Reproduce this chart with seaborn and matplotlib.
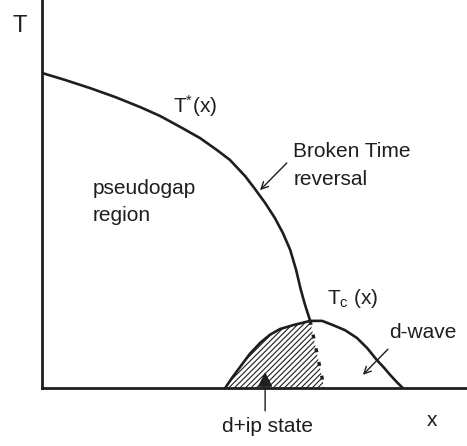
import numpy as np
import pandas as pd
import matplotlib
matplotlib.use("Agg")
import matplotlib.pyplot as plt
import seaborn as sns

# phase diagram values (x = doping, T = temperature, both scaled 0..1)
tstar_x = [0.000, 0.054, 0.113, 0.172, 0.231, 0.278, 0.325, 0.372, 0.412, 0.442,
           0.478, 0.501, 0.525, 0.548, 0.567, 0.584, 0.598, 0.609, 0.619, 0.631]
tstar_T = [0.812, 0.794, 0.773, 0.750, 0.724, 0.701, 0.673, 0.644, 0.613, 0.588,
           0.546, 0.513, 0.477, 0.438, 0.399, 0.356, 0.304, 0.253, 0.214, 0.173]

tc_x = [0.431, 0.447, 0.466, 0.489, 0.513, 0.536, 0.560, 0.591, 0.631, 0.659,
        0.685, 0.713, 0.741, 0.765, 0.788, 0.805, 0.819, 0.835, 0.849]
tc_T = [0.000, 0.026, 0.054, 0.088, 0.116, 0.137, 0.152, 0.162, 0.173, 0.173,
        0.162, 0.149, 0.129, 0.103, 0.072, 0.052, 0.034, 0.015, 0.000]

# dashed boundary of the d+ip region
dip_x = [0.631, 0.664]
dip_T = [0.173, 0.000]

sns.set_style("white")
plt.rcParams["font.family"] = ["Liberation Sans", "DejaVu Sans"]
plt.rcParams["mathtext.fontset"] = "custom"
plt.rcParams["mathtext.rm"] = "Liberation Sans"
plt.rcParams["mathtext.it"] = "Liberation Sans"
plt.rcParams["hatch.linewidth"] = 0.8

ink = "#1e1e1e"
fs = 15

fig = plt.figure(figsize=(4.67, 4.46), dpi=100)
ax = fig.add_axes([42 / 467, 58 / 446, 425 / 467, 388 / 446])

curve_kw = dict(ax=ax, color=ink, lw=1.9, sort=False, estimator=None)
sns.lineplot(x=tstar_x, y=tstar_T, **curve_kw)
sns.lineplot(x=tc_x, y=tc_T, **curve_kw)
for ln in ax.lines:
    ln.set_solid_joinstyle("round")
    ln.set_solid_capstyle("round")
ax.plot(dip_x, dip_T, color=ink, lw=2.4, linestyle=(0, (1.2, 3.0)))

# hatched d+ip area: left half of the dome closed by the dashed line
peak = tc_T.index(max(tc_T))
poly_x = tc_x[:peak + 1] + dip_x[1:]
poly_T = tc_T[:peak + 1] + dip_T[1:]
ax.fill(poly_x, poly_T, facecolor="none", edgecolor=ink, hatch="//////", lw=0)

ax.set_xlim(0, 1)
ax.set_ylim(0, 1)
ax.set_xticks([])
ax.set_yticks([])
for s in ["top", "right"]:
    ax.spines[s].set_visible(False)
for s in ["left", "bottom"]:
    ax.spines[s].set_linewidth(2.0)
    ax.spines[s].set_color(ink)

# labels
ax.text(-0.052, 0.933, "T", fontsize=17, color=ink, ha="center", va="center", clip_on=False)
ax.text(0.918, -0.085, "x", fontsize=fs, color=ink, ha="center", va="center", clip_on=False)
ax.text(0.308, 0.709, r"T$^{*}$(x)", fontsize=fs, color=ink, va="baseline")
ax.text(0.591, 0.595, "Broken Time", fontsize=fs, color=ink, va="baseline")
ax.text(0.591, 0.523, "reversal", fontsize=fs, color=ink, va="baseline")
ax.text(0.12, 0.499, "pseudogap", fontsize=fs, color=ink, va="baseline")
ax.text(0.12, 0.430, "region", fontsize=fs, color=ink, va="baseline")
ax.text(0.671, 0.216, r"T$_{\rm c}$ (x)", fontsize=fs, color=ink, va="baseline")
ax.text(0.816, 0.129, "d-wave", fontsize=fs, color=ink, va="baseline")
ax.text(0.424, -0.113, "d+ip state", fontsize=fs, color=ink, va="baseline", clip_on=False)

# arrows
open_head = dict(arrowstyle="->,head_length=0.5,head_width=0.25", lw=1.0, color=ink, shrinkA=0, shrinkB=0)
ax.annotate("", xy=(0.513, 0.510), xytext=(0.576, 0.580), arrowprops=open_head)
ax.annotate("", xy=(0.755, 0.034), xytext=(0.814, 0.100), arrowprops=open_head)
ax.annotate("", xy=(0.525, 0.041), xytext=(0.525, -0.059), annotation_clip=False,
            arrowprops=dict(arrowstyle="-|>,head_length=0.9,head_width=0.45", lw=1.0,
                            color=ink, shrinkA=0, shrinkB=0))

fig.savefig("out.png", dpi=100)
